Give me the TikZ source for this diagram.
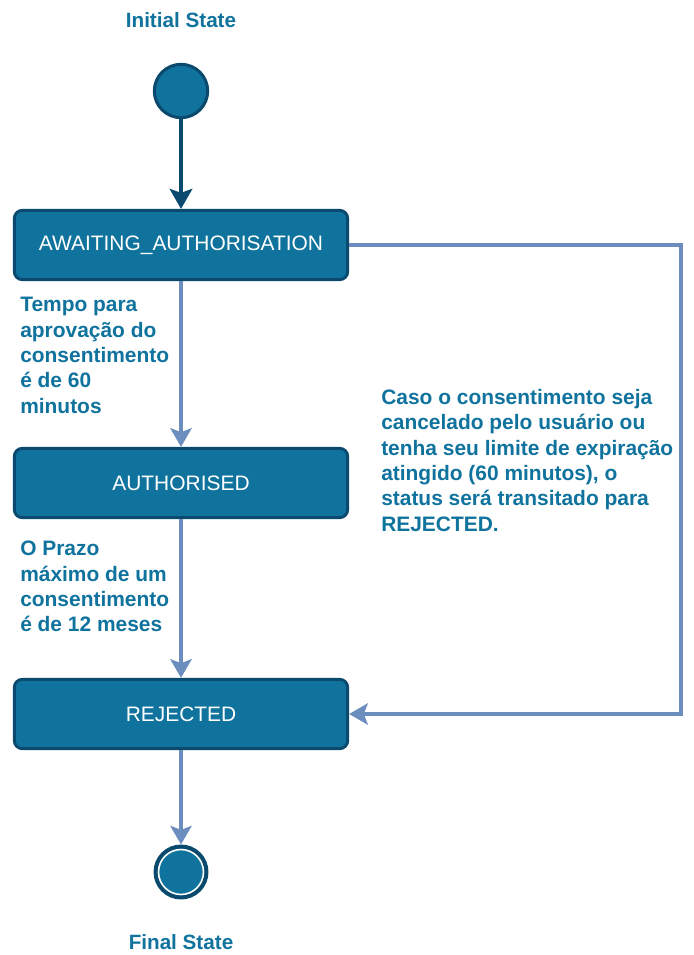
\documentclass[tikz,border=0pt]{standalone}
\usepackage{fontspec}
\setmainfont{Liberation Sans}
\usetikzlibrary{arrows.meta,positioning}
\definecolor{fillblue}{HTML}{10739E}
\definecolor{darkblue}{HTML}{0B4A6F}
\definecolor{lineblue}{HTML}{6C8EBF}

\begin{document}
\begin{tikzpicture}[x=0.75pt, y=-0.75pt, >=Stealth,
    state/.style={draw=darkblue, line width=2.2pt, fill=fillblue, rounded corners=6pt,
        minimum width=250pt, minimum height=52pt, text=white,
        font=\fontsize{15.7}{18}\selectfont},
    note/.style={text=fillblue, font=\bfseries\fontsize{15.7}{19}\selectfont,
        align=left, anchor=north west, inner sep=0pt},
    title/.style={text=fillblue, font=\bfseries\fontsize{15.5}{18}\selectfont},
    flow/.style={draw=lineblue, line width=2.5pt, -{Stealth[length=14pt, width=16pt, inset=3pt]}}]
    \useasboundingbox (0,0) rectangle (693,955);

    % 初始状态
    \node[title] (tinit) at (181,20) {Initial State};
    \node[circle, draw=darkblue, line width=2.3pt, fill=fillblue, minimum size=40pt] (init) at (181,91) {};

    % 三个状态
    \node[state] (await) at (181,245) {AWAITING\_AUTHORISATION};
    \node[state] (auth) at (181,483) {AUTHORISED};
    \node[state] (rej) at (181,714) {REJECTED};

    % 终止状态
    \node[circle, draw=darkblue, line width=3.2pt, fill=fillblue, minimum size=38pt] (fim) at (181,872) {};
    \draw[white, line width=1.2pt] (fim.center) circle (22.5);
    \node[title] (tfim) at (181,942) {Final State};

    % 连线
    \draw[darkblue, line width=2.5pt, -{Stealth[length=15pt, width=17pt, inset=3pt]}] (init) -- (await);
    \draw[flow] (await) -- (auth);
    \draw[flow] (auth) -- (rej);
    \draw[flow] (rej) -- (fim);
    \coordinate (dobra) at (681,0);
    \draw[flow] (await.east) -| (dobra |- rej.east) -- (rej.east);

    % 说明文字
    \node[note] (n1) at (20,297) {Tempo para\\aprovação do\\consentimento\\é de 60\\minutos};
    \node[note] (n2) at (20,541) {O Prazo\\máximo de um\\consentimento\\é de 12 meses};
    \node[note] (n3) at (381,389) {Caso o consentimento seja\\cancelado pelo usuário ou\\tenha seu limite de expiração\\atingido (60 minutos), o\\status será transitado para\\REJECTED.};
\end{tikzpicture}
\end{document}
